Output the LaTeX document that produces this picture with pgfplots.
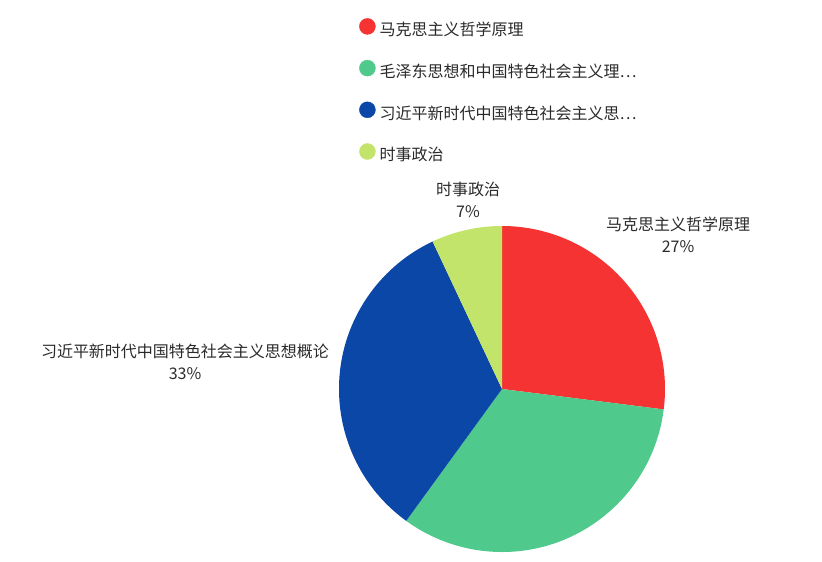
\documentclass[border=0pt]{standalone}
\usepackage{fontspec}
\setmainfont{Noto Sans CJK SC}
\usepackage{pgfplots}
\usepackage{pgfplotstable}
\pgfplotsset{compat=1.18}

\definecolor{marxred}{HTML}{F53333}
\definecolor{maogreen}{HTML}{50C98D}
\definecolor{xiblue}{HTML}{0A47A6}
\definecolor{newslime}{HTML}{C3E46A}
\definecolor{labelgray}{HTML}{2A2A2A}

% shares in percent, clockwise from 12 o'clock
\pgfplotstableread{
value
27
33
33
7
}\piedata

\pgfplotstablegetelem{0}{value}\of\piedata \let\vA\pgfplotsretval
\pgfplotstablegetelem{1}{value}\of\piedata \let\vB\pgfplotsretval
\pgfplotstablegetelem{2}{value}\of\piedata \let\vC\pgfplotsretval
\pgfplotstablegetelem{3}{value}\of\piedata \let\vD\pgfplotsretval
\pgfmathsetmacro{\aA}{90}
\pgfmathsetmacro{\aB}{\aA-3.6*\vA}
\pgfmathsetmacro{\aC}{\aB-3.6*\vB}
\pgfmathsetmacro{\aD}{\aC-3.6*\vC}
\pgfmathsetmacro{\aE}{\aD-3.6*\vD}

\begin{document}
\begin{tikzpicture}
\begin{axis}[
  scale only axis,
  width=822pt, height=562pt,
  xmin=0, xmax=822, ymin=0, ymax=562,
  hide axis,
  clip=false,
  legend style={
    at={(axis cs:356,546)}, anchor=north west,
    draw=none, fill=none,
    font=\fontsize{16}{20}\selectfont,
    text=labelgray,
    row sep=21pt,
    nodes={inner xsep=4pt, inner ysep=0pt, text height=13pt, text depth=3pt},
  },
  legend cell align=left,
]

% ── pie wedges ──
\fill[marxred]  (axis cs:502,173) -- ++(\aA:163pt) arc[start angle=\aA, end angle=\aB, radius=163pt] -- cycle;
\fill[maogreen] (axis cs:502,173) -- ++(\aB:163pt) arc[start angle=\aB, end angle=\aC, radius=163pt] -- cycle;
\fill[xiblue]   (axis cs:502,173) -- ++(\aC:163pt) arc[start angle=\aC, end angle=\aD, radius=163pt] -- cycle;
\fill[newslime] (axis cs:502,173) -- ++(\aD:163pt) arc[start angle=\aD, end angle=\aE, radius=163pt] -- cycle;

% ── legend ──
\addlegendimage{legend image code/.code={\fill[marxred] (8pt,4.5pt) circle (8pt);}}
\addlegendentry{马克思主义哲学原理}
\addlegendimage{legend image code/.code={\fill[maogreen] (8pt,4.5pt) circle (8pt);}}
\addlegendentry{毛泽东思想和中国特色社会主义理⋯}
\addlegendimage{legend image code/.code={\fill[xiblue] (8pt,4.5pt) circle (8pt);}}
\addlegendentry{习近平新时代中国特色社会主义思⋯}
\addlegendimage{legend image code/.code={\fill[newslime] (8pt,4.5pt) circle (8pt);}}
\addlegendentry{时事政治}

% ── slice labels ──
\node[align=center, text=labelgray, font=\fontsize{16}{22}\selectfont]
  at (axis cs:468,362) {时事政治\\7\%};
\node[align=center, text=labelgray, font=\fontsize{16}{22}\selectfont]
  at (axis cs:678,327) {马克思主义哲学原理\\27\%};
\node[align=center, text=labelgray, font=\fontsize{16}{22}\selectfont]
  at (axis cs:185,200) {习近平新时代中国特色社会主义思想概论\\33\%};

% keep the full canvas
\path (axis cs:0,0) (axis cs:822,562);
\end{axis}
\end{tikzpicture}
\end{document}
